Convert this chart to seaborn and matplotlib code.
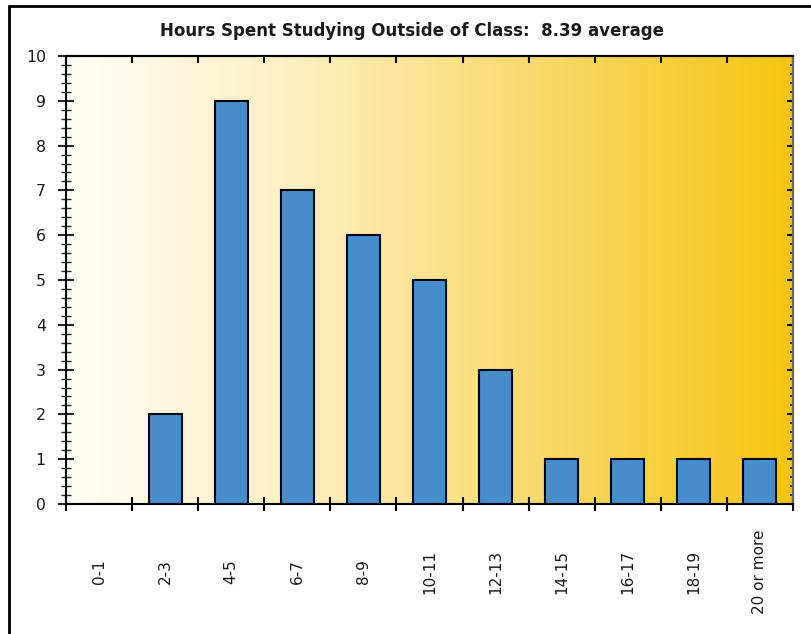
import numpy as np
import pandas as pd
import seaborn as sns
import matplotlib.pyplot as plt
from matplotlib.colors import LinearSegmentedColormap
from matplotlib.lines import Line2D
from matplotlib.ticker import MultipleLocator, FixedLocator, NullFormatter

# Data
categories = ['0-1', '2-3', '4-5', '6-7', '8-9', '10-11', '12-13',
              '14-15', '16-17', '18-19', '20 or more']
counts = [0, 2, 9, 7, 6, 5, 3, 1, 1, 1, 1]
title = 'Hours Spent Studying Outside of Class:  8.39 average'

df = pd.DataFrame({'range': categories, 'count': counts})

sns.set_style('white')
plt.rcParams['font.family'] = ['DejaVu Sans']

fig = plt.figure(figsize=(8.12, 6.34), dpi=100)
ax = fig.add_axes([66 / 812, 130 / 634, 727 / 812, 448 / 634])

n = len(categories)
# gradient background (white -> gold, left to right)
cmap = LinearSegmentedColormap.from_list(
    'gold', [(0, '#fffdf6'), (0.3, '#fdf0c4'), (0.6, '#fadc78'), (1, '#f6c511')])
grad = np.linspace(0, 1, 512).reshape(1, -1)
ax.imshow(grad, cmap=cmap, aspect='auto', extent=(-0.5, n - 0.5, 0, 10),
          zorder=0, interpolation='bicubic')

sns.barplot(data=df, x='range', y='count', color='#478dcb', width=0.5,
            edgecolor='black', linewidth=1.5, saturation=1, ax=ax, zorder=2)

ax.set_xlim(-0.5, n - 0.5)
ax.set_ylim(0, 10)
ax.set_xlabel('')
ax.set_ylabel('')
fig.text(412 / 812, 1 - 31 / 634, title, fontsize=12, fontweight='bold',
         color='#1a1a1a', ha='center', va='center')

for s in ax.spines.values():
    s.set_color('black')
    s.set_linewidth(1.5)
ax.spines['right'].set_color('#666666')

# x axis: labels at centers, ticks at category boundaries
ax.set_xticks(range(n))
ax.set_xticklabels(categories, rotation=90, fontsize=11, color='#1a1a1a',
                   va='center')
ax.xaxis.set_minor_locator(FixedLocator(np.arange(-0.5, n, 1.0)))
ax.tick_params(axis='x', which='major', length=0, pad=49)
ax.tick_params(axis='x', which='minor', direction='inout', length=9.5,
               width=1.5, color='black', bottom=True)

# y axis
ax.yaxis.set_major_locator(MultipleLocator(1))
ax.yaxis.set_minor_locator(MultipleLocator(0.2))
ax.tick_params(axis='y', which='major', direction='inout', length=11,
               width=1.5, labelsize=11.3, labelcolor='#1a1a1a', left=True, pad=9)
ax.tick_params(axis='y', which='minor', direction='inout', length=6.5,
               width=1.0, left=True)

# top axis ticks (inward)
top = ax.secondary_xaxis('top')
top.xaxis.set_major_locator(FixedLocator(np.arange(-0.5, n, 1.0)))
top.xaxis.set_major_formatter(NullFormatter())
top.tick_params(direction='in', length=5, width=1.5, color='black')
top.spines['top'].set_linewidth(1.5)

# right axis ticks (inward)
right = ax.secondary_yaxis('right')
right.yaxis.set_major_locator(MultipleLocator(1))
right.yaxis.set_minor_locator(MultipleLocator(0.2))
right.yaxis.set_major_formatter(NullFormatter())
right.tick_params(which='major', direction='in', length=4, width=1.5, color='black')
right.tick_params(which='minor', direction='in', length=2.3, width=1.2, color='black')
right.spines['right'].set_linewidth(1.5)
right.spines['right'].set_color('#666666')

# outer frame lines (left and top)
fig.add_artist(Line2D([9 / 812, 9 / 812], [0, 1 - 5.5 / 634], color='black', lw=2))
fig.add_artist(Line2D([9 / 812, 1], [1 - 5.5 / 634, 1 - 5.5 / 634], color='black', lw=2))

fig.savefig('out.png', dpi=100)
